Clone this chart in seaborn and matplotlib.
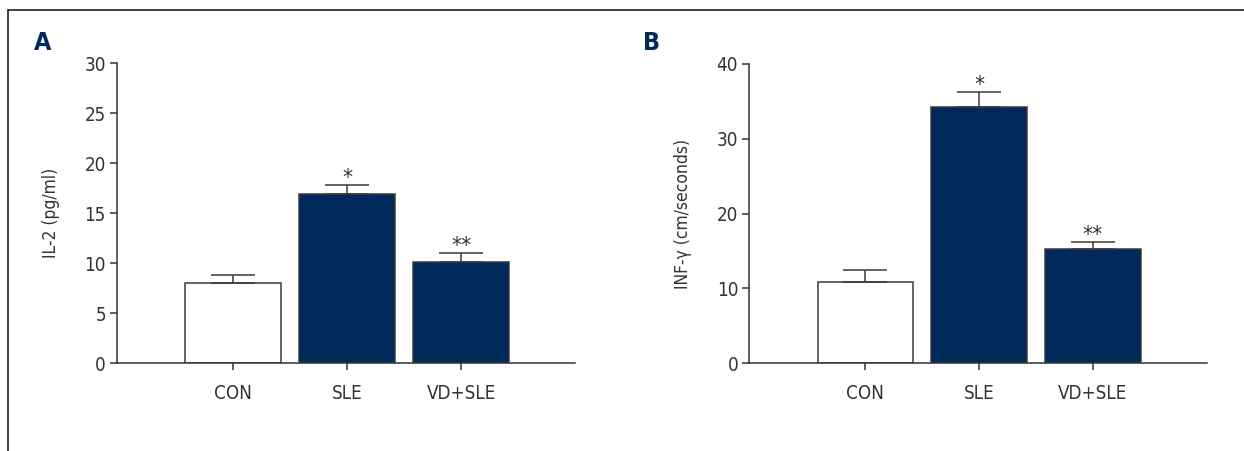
import matplotlib
matplotlib.use('Agg')
import matplotlib.pyplot as plt
from matplotlib.lines import Line2D
import numpy as np
import pandas as pd
import seaborn as sns

groups = ['CON', 'SLE', 'VD+SLE']

il2_mean = [8.0, 16.9, 10.1]
il2_err = [0.8, 0.9, 0.9]
il2_stars = ['', '*', '**']

inf_mean = [10.9, 34.3, 15.3]
inf_err = [1.5, 1.9, 0.9]
inf_stars = ['', '*', '**']

navy = '#012a5b'
dark = '#333333'
bar_colors = ['white', navy, navy]

sns.set_style('ticks')
plt.rcParams['font.family'] = ['DejaVu Sans']
plt.rcParams['font.stretch'] = 'condensed'
plt.rcParams['text.color'] = dark
plt.rcParams['axes.edgecolor'] = dark
plt.rcParams['xtick.color'] = dark
plt.rcParams['ytick.color'] = dark
plt.rcParams['axes.labelcolor'] = dark

fig = plt.figure(figsize=(12.44, 4.51), dpi=100)


def draw_panel(rect, means, errs, stars, ymax, ystep, ylabel, letter, letter_x):
    ax = fig.add_axes(rect)
    df = pd.DataFrame({'group': groups, 'value': means})
    sns.barplot(data=df, x='group', y='value', hue='group', palette=bar_colors, legend=False,
                saturation=1, width=0.84, edgecolor='#3a3a3a', linewidth=1.1,
                errorbar=None, ax=ax)
    x = np.arange(len(groups))
    ax.errorbar(x, means, yerr=[np.zeros(len(errs)), errs], fmt='none', ecolor='#3a3a3a',
                elinewidth=1.1, capsize=16, capthick=1.1, zorder=1)
    for i, s in enumerate(stars):
        if s:
            ax.annotate(s, (i, means[i] + errs[i]), xytext=(0, 1), textcoords='offset points',
                        ha='center', va='baseline', fontsize=16, color=dark)
    ax.set_xlim(-1.02, 3.0)
    ax.set_ylim(0, ymax)
    ax.set_yticks(np.arange(0, ymax + 0.1, ystep))
    ax.set_xlabel('')
    ax.set_ylabel(ylabel, fontsize=12.5)
    ax.yaxis.set_label_coords(-0.125, 0.5)
    ax.tick_params(axis='both', labelsize=13.5, length=5, width=1.1)
    ax.tick_params(axis='x', pad=10)
    ax.tick_params(axis='y', pad=3)
    sns.despine(ax=ax)
    for sp in ['left', 'bottom']:
        ax.spines[sp].set_linewidth(1.1)
    fig.text(letter_x, 0.905, letter, fontsize=18, fontweight='bold', color=navy,
             ha='center', va='center')
    return ax


ax_a = draw_panel([0.0941, 0.1951, 0.3682, 0.6652], il2_mean, il2_err, il2_stars,
                  30, 5, 'IL-2 (pg/ml)', 'A', 0.034)
ax_b = draw_panel([0.6023, 0.1951, 0.3677, 0.6630], inf_mean, inf_err, inf_stars,
                  40, 10, 'INF-γ (cm/seconds)', 'B', 0.524)

# frame around the figure (top and left edges)
fig.add_artist(Line2D([0.0064, 1.0], [0.9778, 0.9778], transform=fig.transFigure,
                      color='#222222', lw=1.2))
fig.add_artist(Line2D([0.0064, 0.0064], [0.0, 0.9778], transform=fig.transFigure,
                      color='#222222', lw=1.2))

fig.savefig('out.png', dpi=100)
